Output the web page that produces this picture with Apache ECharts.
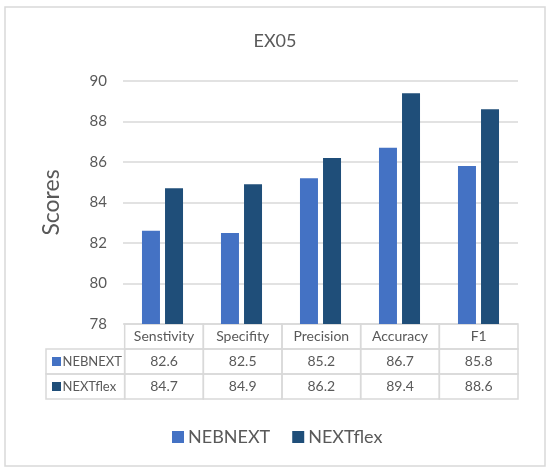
<!DOCTYPE html>
<html>
<head>
<meta charset="utf-8">
<script src="https://cdn.jsdelivr.net/npm/echarts@6/dist/echarts.min.js"></script>
<style>html,body{margin:0;padding:0;background:#fff}#c{width:550px;height:475px}</style>
</head>
<body>
<div id="c"></div>
<script>
const categories = ['Senstivity', 'Specifity', 'Precision', 'Accuracy', 'F1'];
const seriesNames = ['NEBNEXT', 'NEXTflex'];
const nebnext = [82.6, 82.5, 85.2, 86.7, 85.8];
const nextflex = [84.7, 84.9, 86.2, 89.4, 88.6];
const yTicks = [78, 80, 82, 84, 86, 88, 90];
const colors = ['#4472C4', '#1F4E79'];

const FONT = 'Lato';
const TXT = '#595959';
const LINE = '#D9D9D9';

// table cells: [col, row, text, kind, seriesIndex]
const seriesValues = [nebnext, nextflex];
const cells = [];
categories.forEach((c, i) => cells.push([i + 1, 0, c, 'head', -1]));
seriesNames.forEach((n, r) => {
  cells.push([0, r + 1, n, 'label', r]);
  seriesValues[r].forEach((v, i) => cells.push([i + 1, r + 1, v.toFixed(1), 'value', r]));
});

const chart = echarts.init(document.getElementById('c'));
chart.setOption({
  animation: false,
  backgroundColor: '#fff',
  textStyle: { fontFamily: FONT },
  title: {
    text: 'EX05', left: 'center', top: 27,
    textStyle: { fontFamily: FONT, fontSize: 18, fontWeight: 'normal', color: TXT }
  },
  legend: {
    data: seriesNames, left: 167, top: 423, icon: 'rect',
    itemWidth: 12, itemHeight: 12, itemGap: 22,
    textStyle: { fontFamily: FONT, fontSize: 18, color: TXT, padding: [0, 0, 0, -1] }
  },
  graphic: [{
    type: 'rect', shape: { x: 5, y: 7, width: 540, height: 459 },
    style: { fill: 'none', stroke: LINE, lineWidth: 1.5 }, z: -1
  }],
  grid: [
    { left: 123, right: 32, top: 81, bottom: 151 },
    { left: 46, right: 32, top: 324, height: 75 }
  ],
  xAxis: [
    { type: 'category', gridIndex: 0, data: categories,
      axisLine: { show: false }, axisTick: { show: false }, axisLabel: { show: false } },
    { type: 'category', gridIndex: 1, data: [''].concat(categories), show: false }
  ],
  yAxis: [
    { type: 'value', gridIndex: 0, min: yTicks[0], max: yTicks[yTicks.length - 1], interval: 2,
      name: 'Scores', nameLocation: 'middle', nameGap: 60, nameMoveOverlap: false,
      nameTextStyle: { fontFamily: FONT, fontSize: 23, color: TXT },
      axisLine: { show: false }, axisTick: { show: false },
      axisLabel: { fontFamily: FONT, fontSize: 15, color: TXT, margin: 16 },
      splitLine: { lineStyle: { color: LINE, width: 1.5 } } },
    { type: 'category', gridIndex: 1, data: ['head'].concat(seriesNames), inverse: true, show: false }
  ],
  series: [
    { name: seriesNames[0], type: 'bar', data: nebnext, barWidth: 18, barGap: '28%',
      itemStyle: { color: colors[0] } },
    { name: seriesNames[1], type: 'bar', data: nextflex, barWidth: 18, barGap: '28%',
      itemStyle: { color: colors[1] } },
    { type: 'custom', xAxisIndex: 1, yAxisIndex: 1, data: cells.map(c => [c[0], c[1]]),
      renderItem: function (params, api) {
        const cell = cells[params.dataIndex];
        const p = api.coord([api.value(0), api.value(1)]);
        const s = api.size([1, 1]);
        const x0 = p[0] - s[0] / 2, y0 = p[1] - s[1] / 2;
        const children = [{
          type: 'rect', shape: { x: x0, y: y0, width: s[0], height: s[1] },
          style: { fill: 'none', stroke: LINE, lineWidth: 1.5 }
        }];
        if (cell[3] === 'label') {
          children.push({ type: 'rect', shape: { x: x0 + 6, y: p[1] - 4.5, width: 9, height: 9 },
            style: { fill: colors[cell[4]] } });
          children.push({ type: 'text', style: { text: cell[2], x: x0 + 16.5, y: p[1],
            align: 'left', verticalAlign: 'middle', fill: TXT, fontSize: 13, fontFamily: FONT } });
        } else {
          children.push({ type: 'text', style: { text: cell[2], x: p[0], y: p[1],
            align: 'center', verticalAlign: 'middle', fill: TXT, fontSize: 14, fontFamily: FONT } });
        }
        return { type: 'group', children: children };
      }
    }
  ]
});
</script>
</body>
</html>
